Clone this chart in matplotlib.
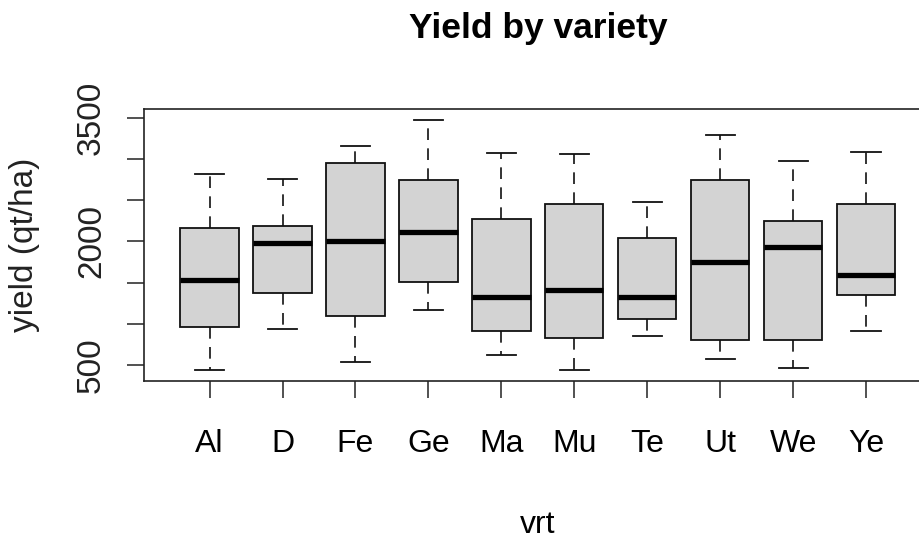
import matplotlib
matplotlib.use('Agg')
import matplotlib.pyplot as plt

# values (qt/ha)
varieties = ['Al', 'D', 'Fe', 'Ge', 'Ma', 'Mu', 'Te', 'Ut', 'We', 'Ye']
whisk_lo = [439, 933, 540, 1168, 621, 439, 856, 569, 464, 916]
q1 = [958, 1378, 1091, 1511, 916, 828, 1062, 803, 803, 1350]
medians = [1535, 1981, 2009, 2111, 1329, 1407, 1329, 1747, 1932, 1592]
q3 = [2167, 2191, 2952, 2742, 2272, 2451, 2038, 2742, 2244, 2451]
whisk_hi = [2818, 2762, 3159, 3470, 3077, 3057, 2479, 3292, 2973, 3081]

y_ticks = [500, 1000, 1500, 2000, 2500, 3000, 3500]
y_ticklabels = ['500', '', '', '2000', '', '', '3500']

plt.rcParams['font.family'] = ['Liberation Sans', 'DejaVu Sans']

stats = []
for i, name in enumerate(varieties):
    stats.append({'label': name, 'whislo': whisk_lo[i], 'q1': q1[i],
                  'med': medians[i], 'q3': q3[i], 'whishi': whisk_hi[i],
                  'fliers': []})

fig = plt.figure(figsize=(9.2, 5.42), dpi=100)
# plot region runs past the right edge of the picture, like the original
ax = fig.add_axes([0.1565, 0.297, 0.8562, 0.5018])

ax.bxp(stats, positions=range(1, len(varieties) + 1), widths=0.8,
       patch_artist=True, showfliers=False,
       boxprops=dict(facecolor='#d3d3d3', edgecolor='#111111', linewidth=1.3),
       medianprops=dict(color='black', linewidth=3.8, solid_capstyle='butt'),
       whiskerprops=dict(color='#111111', linewidth=1.2, linestyle=(0, (7, 5))),
       capprops=dict(color='#111111', linewidth=1.3))

ax.set_xlim(0.1, 10.9)
ax.set_ylim(306, 3607)

ax.set_yticks(y_ticks)
ax.set_yticklabels(y_ticklabels, rotation=90, va='center', fontsize=24,
                   color='#222222')
ax.set_xticks(range(1, len(varieties) + 1))
ax.set_xticklabels(varieties, fontsize=23)

ax.tick_params(axis='both', length=12.2, width=1.1, color='#222222')
ax.tick_params(axis='y', pad=14.5)
ax.tick_params(axis='x', pad=22.5)

for side in ['left', 'top', 'bottom', 'right']:
    ax.spines[side].set_linewidth(1.2)
    ax.spines[side].set_color('#222222')

ax.set_title('Yield by variety', fontsize=25.5, fontweight='bold', pad=51)
ax.set_ylabel('yield (qt/ha)', fontsize=24, color='#222222')
ax.yaxis.set_label_coords(-0.132, 0.5)
ax.set_xlabel('vrt', fontsize=23)
ax.xaxis.set_label_coords(0.5, -0.475)

fig.savefig('out.png', dpi=100)
